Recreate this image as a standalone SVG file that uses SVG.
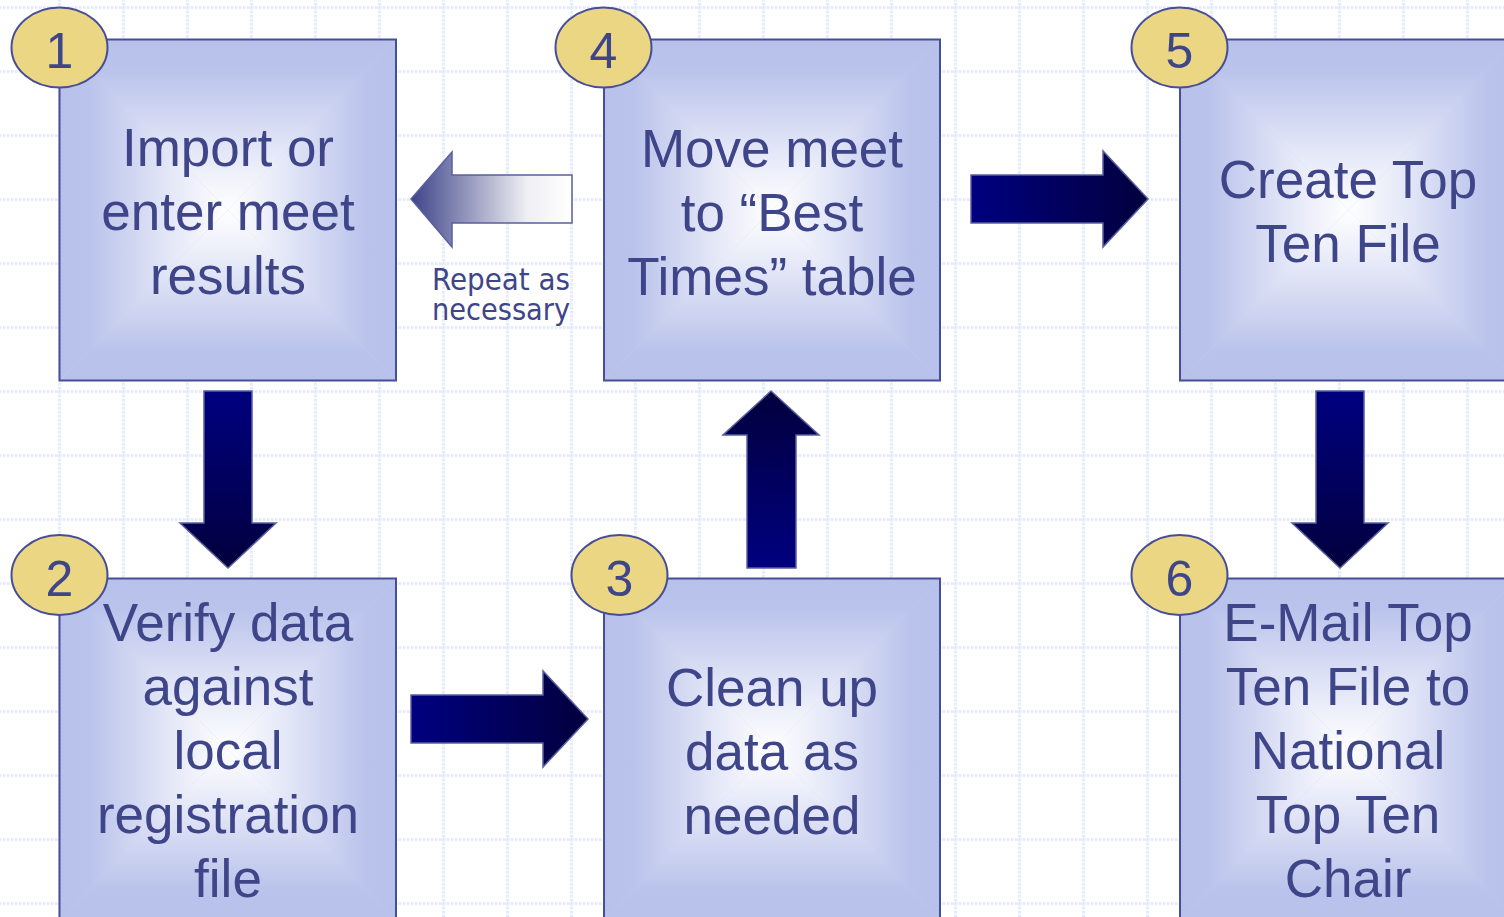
<svg xmlns="http://www.w3.org/2000/svg" width="1504" height="917" viewBox="0 0 1504 917">
<defs>
<style>
.base{fill:#c9cff0;stroke:none}
.frame{fill:none;stroke:#474e98;stroke-width:2}
.badge{fill:#ead683;stroke:#474e98;stroke-width:2}
.num{font-family:"Liberation Sans",Arial,sans-serif;font-size:50px;fill:#3f4589;text-anchor:middle}
.lbl{font-family:"Liberation Sans",Arial,sans-serif;font-size:53px;fill:#3f4589;text-anchor:middle}
.note{font-family:"DejaVu Sans Condensed","DejaVu Sans",Verdana,sans-serif;font-stretch:condensed;font-size:31px;fill:#3f4589}
.arrow{stroke:#5a5fa0;stroke-width:1.5}
</style>
<linearGradient id="gT" x1="0" y1="0" x2="0" y2="1"><stop offset="0" stop-color="#b8c1ea"/><stop offset="0.18" stop-color="#bac3eb"/><stop offset="0.6" stop-color="#dfe3f6"/><stop offset="1" stop-color="#ffffff"/></linearGradient>
<linearGradient id="gB" x1="0" y1="1" x2="0" y2="0"><stop offset="0" stop-color="#b8c1ea"/><stop offset="0.18" stop-color="#bac3eb"/><stop offset="0.6" stop-color="#dfe3f6"/><stop offset="1" stop-color="#ffffff"/></linearGradient>
<linearGradient id="gL" x1="0" y1="0" x2="1" y2="0"><stop offset="0" stop-color="#b8c1ea"/><stop offset="0.18" stop-color="#bac3eb"/><stop offset="0.6" stop-color="#dfe3f6"/><stop offset="1" stop-color="#ffffff"/></linearGradient>
<linearGradient id="gR" x1="1" y1="0" x2="0" y2="0"><stop offset="0" stop-color="#b8c1ea"/><stop offset="0.18" stop-color="#bac3eb"/><stop offset="0.6" stop-color="#dfe3f6"/><stop offset="1" stop-color="#ffffff"/></linearGradient>
<linearGradient id="aRight" x1="0" y1="0" x2="1" y2="0"><stop offset="0" stop-color="#000080"/><stop offset="1" stop-color="#02003c"/></linearGradient>
<linearGradient id="aDown" x1="0" y1="0" x2="0" y2="1"><stop offset="0" stop-color="#000080"/><stop offset="1" stop-color="#02003c"/></linearGradient>
<linearGradient id="aUp" x1="0" y1="1" x2="0" y2="0"><stop offset="0" stop-color="#000080"/><stop offset="1" stop-color="#02003c"/></linearGradient>
<linearGradient id="aLeft" x1="0" y1="0" x2="1" y2="0"><stop offset="0" stop-color="#3e4489"/><stop offset="0.72" stop-color="#efeff4"/><stop offset="1" stop-color="#ffffff"/></linearGradient>
<pattern id="grid" patternUnits="userSpaceOnUse" x="27" y="-25" width="64" height="64">
<path d="M32.5 0V64M0 32.5H64" stroke="#dde5fc" stroke-width="2.5" stroke-dasharray="2 2" fill="none"/>
<path d="M32.5 1V64M1 32.5H64" stroke="#e8eefd" stroke-width="2.5" stroke-dasharray="2 2" fill="none"/>
</pattern>
</defs>
<rect width="1504" height="917" fill="#ffffff"/>
<rect width="1504" height="917" fill="url(#grid)"/>

<g id="connectors">
<polygon class="arrow" fill="url(#aLeft)" stroke="#4a4f94" points="411,199 452,152 452,175 572,175 572,223 452,223 452,247"/>
<polygon class="arrow" fill="url(#aRight)" points="971,175 1103,175 1103,151 1148,199 1103,247 1103,223 971,223"/>
<polygon class="arrow" fill="url(#aRight)" points="411,695 543,695 543,671 588,719 543,767 543,743 411,743"/>
<polygon class="arrow" fill="url(#aDown)" points="204,391 252,391 252,523 276,523 228,568 180,523 204,523"/>
<polygon class="arrow" fill="url(#aDown)" points="1316,391 1364,391 1364,523 1388,523 1340,568 1292,523 1316,523"/>
<polygon class="arrow" fill="url(#aUp)" points="747,568 796,568 796,435 819,435 771,391 723,435 747,435"/>
<text class="note" x="432" y="290" textLength="138" lengthAdjust="spacingAndGlyphs">Repeat as</text>
<text class="note" x="432" y="320" textLength="138" lengthAdjust="spacingAndGlyphs">necessary</text>
</g>

<g id="node1">
<rect class="base" x="59.5" y="39.5" width="336.5" height="341"/>
<polygon fill="url(#gT)" points="59.5,39.5 396,39.5 227.75,210"/>
<polygon fill="url(#gB)" points="59.5,380.5 396,380.5 227.75,210"/>
<polygon fill="url(#gL)" points="59.5,39.5 59.5,380.5 227.75,210"/>
<polygon fill="url(#gR)" points="396,39.5 396,380.5 227.75,210"/>
<rect class="frame" x="59.5" y="39.5" width="336.5" height="341"/>
<text class="lbl" x="228" y="166">Import or</text>
<text class="lbl" x="228" y="230">enter meet</text>
<text class="lbl" x="228" y="294">results</text>
<ellipse class="badge" cx="59.5" cy="47.5" rx="48" ry="40"/>
<text class="num" x="59.5" y="68">1</text>
</g>

<g id="node4">
<rect class="base" x="604" y="39.5" width="336" height="341"/>
<polygon fill="url(#gT)" points="604,39.5 940,39.5 772,210"/>
<polygon fill="url(#gB)" points="604,380.5 940,380.5 772,210"/>
<polygon fill="url(#gL)" points="604,39.5 604,380.5 772,210"/>
<polygon fill="url(#gR)" points="940,39.5 940,380.5 772,210"/>
<rect class="frame" x="604" y="39.5" width="336" height="341"/>
<text class="lbl" x="772" y="167">Move meet</text>
<text class="lbl" x="772" y="231">to “Best</text>
<text class="lbl" x="772" y="295">Times” table</text>
<ellipse class="badge" cx="603.5" cy="47.5" rx="48" ry="40"/>
<text class="num" x="603.5" y="68">4</text>
</g>

<g id="node5">
<rect class="base" x="1180" y="39.5" width="337" height="341"/>
<polygon fill="url(#gT)" points="1180,39.5 1517,39.5 1348.5,210"/>
<polygon fill="url(#gB)" points="1180,380.5 1517,380.5 1348.5,210"/>
<polygon fill="url(#gL)" points="1180,39.5 1180,380.5 1348.5,210"/>
<polygon fill="url(#gR)" points="1517,39.5 1517,380.5 1348.5,210"/>
<rect class="frame" x="1180" y="39.5" width="337" height="341"/>
<text class="lbl" x="1348" y="198">Create Top</text>
<text class="lbl" x="1348" y="262">Ten File</text>
<ellipse class="badge" cx="1179.5" cy="47.5" rx="48" ry="40"/>
<text class="num" x="1179.5" y="68">5</text>
</g>

<g id="node2">
<rect class="base" x="59.5" y="578.5" width="336.5" height="341"/>
<polygon fill="url(#gT)" points="59.5,578.5 396,578.5 227.75,749"/>
<polygon fill="url(#gB)" points="59.5,919.5 396,919.5 227.75,749"/>
<polygon fill="url(#gL)" points="59.5,578.5 59.5,919.5 227.75,749"/>
<polygon fill="url(#gR)" points="396,578.5 396,919.5 227.75,749"/>
<rect class="frame" x="59.5" y="578.5" width="336.5" height="341"/>
<text class="lbl" x="228" y="641">Verify data</text>
<text class="lbl" x="228" y="705">against</text>
<text class="lbl" x="228" y="769">local</text>
<text class="lbl" x="228" y="833">registration</text>
<text class="lbl" x="228" y="897">file</text>
<ellipse class="badge" cx="59.5" cy="575" rx="48" ry="40"/>
<text class="num" x="59.5" y="596">2</text>
</g>

<g id="node3">
<rect class="base" x="604" y="578.5" width="336" height="341"/>
<polygon fill="url(#gT)" points="604,578.5 940,578.5 772,749"/>
<polygon fill="url(#gB)" points="604,919.5 940,919.5 772,749"/>
<polygon fill="url(#gL)" points="604,578.5 604,919.5 772,749"/>
<polygon fill="url(#gR)" points="940,578.5 940,919.5 772,749"/>
<rect class="frame" x="604" y="578.5" width="336" height="341"/>
<text class="lbl" x="772" y="706">Clean up</text>
<text class="lbl" x="772" y="770">data as</text>
<text class="lbl" x="772" y="834">needed</text>
<ellipse class="badge" cx="619.5" cy="575" rx="48" ry="40"/>
<text class="num" x="619.5" y="596">3</text>
</g>

<g id="node6">
<rect class="base" x="1180" y="578.5" width="337" height="341"/>
<polygon fill="url(#gT)" points="1180,578.5 1517,578.5 1348.5,749"/>
<polygon fill="url(#gB)" points="1180,919.5 1517,919.5 1348.5,749"/>
<polygon fill="url(#gL)" points="1180,578.5 1180,919.5 1348.5,749"/>
<polygon fill="url(#gR)" points="1517,578.5 1517,919.5 1348.5,749"/>
<rect class="frame" x="1180" y="578.5" width="337" height="341"/>
<text class="lbl" x="1348" y="641">E-Mail Top</text>
<text class="lbl" x="1348" y="705">Ten File to</text>
<text class="lbl" x="1348" y="769">National</text>
<text class="lbl" x="1348" y="833">Top Ten</text>
<text class="lbl" x="1348" y="897">Chair</text>
<ellipse class="badge" cx="1179.5" cy="575" rx="48" ry="40"/>
<text class="num" x="1179.5" y="596">6</text>
</g>
</svg>
